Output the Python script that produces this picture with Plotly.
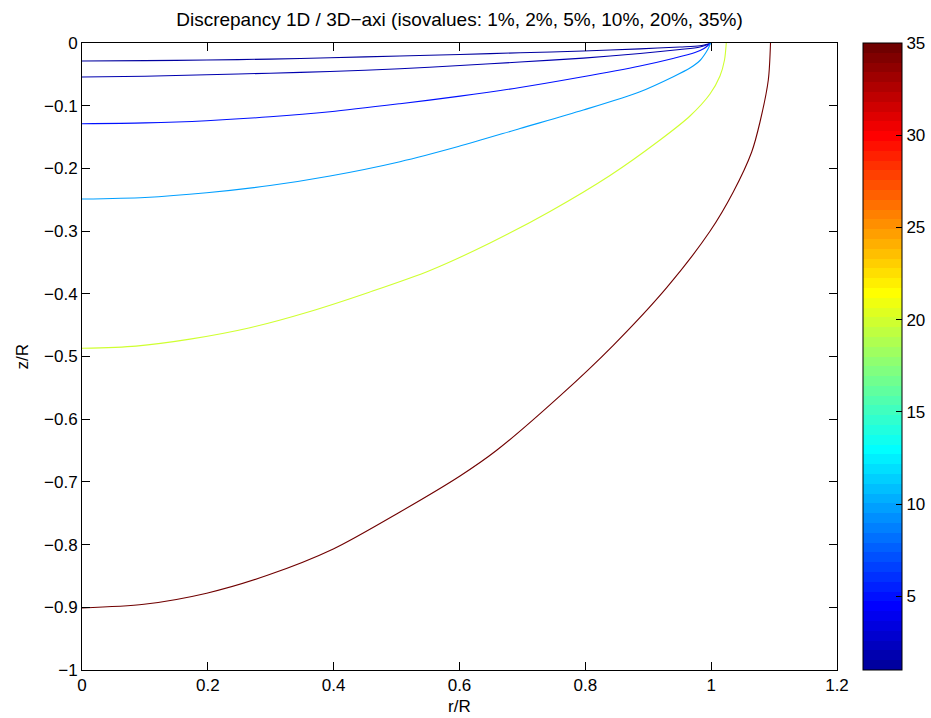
import plotly.graph_objects as go

# ---- data (r/R, z/R) ----
levels = [1, 2, 5, 10, 20, 35]

r_1 = [0.0, 0.1001, 0.1982, 0.2988, 0.3942, 0.5054, 0.6008, 0.6962, 0.7968, 0.8869, 0.9504, 0.9822, 0.9989]
z_1 = [-0.0287, -0.0281, -0.0271, -0.0257, -0.0236, -0.0207, -0.0183, -0.0156, -0.0128, -0.0093, -0.0064, -0.0045, -0.0008]

r_2 = [0.0, 0.1001, 0.1982, 0.2988, 0.3942, 0.5054, 0.6008, 0.6962, 0.7968, 0.8869, 0.9504, 0.9822, 0.9989]
z_2 = [-0.0542, -0.0530, -0.0507, -0.0482, -0.0455, -0.0410, -0.0359, -0.0303, -0.0242, -0.0167, -0.0104, -0.0064, -0.0008]

r_5 = [0.0, 0.1001, 0.1982, 0.2988, 0.3942, 0.5054, 0.6008, 0.6962, 0.7915, 0.8869, 0.9393, 0.9743, 0.9886, 0.9957, 0.9989]
z_5 = [-0.1287, -0.1274, -0.1239, -0.1177, -0.1096, -0.0968, -0.0848, -0.0710, -0.0547, -0.0367, -0.0247, -0.0152, -0.0088, -0.0032, 0.0]

r_10 = [0.0, 0.1001, 0.1982, 0.2988, 0.3942, 0.5054, 0.5981, 0.6962, 0.7968, 0.8869, 0.9398, 0.9663, 0.9822, 0.9917, 0.9965, 0.9989]
z_10 = [-0.2488, -0.2463, -0.2388, -0.2273, -0.2121, -0.1893, -0.1651, -0.1364, -0.1069, -0.0777, -0.0537, -0.0399, -0.0279, -0.0152, -0.0064, 0.0]

r_20 = [0.0, 0.0858, 0.1717, 0.2670, 0.3624, 0.4577, 0.5531, 0.6485, 0.7438, 0.8392, 0.9187, 0.9663, 0.9981, 1.0140, 1.0212, 1.0240]
z_20 = [-0.4869, -0.4834, -0.4723, -0.4541, -0.4282, -0.3971, -0.3628, -0.3190, -0.2687, -0.2113, -0.1547, -0.1164, -0.0813, -0.0526, -0.0271, 0.0]

r_35 = [0.0, 0.0985, 0.1982, 0.2936, 0.3994, 0.5054, 0.6008, 0.6591, 0.7597, 0.8444, 0.9293, 0.9981, 1.0351, 1.0644, 1.0776, 1.0908, 1.0943]
z_35 = [-0.9011, -0.8952, -0.8775, -0.8494, -0.8070, -0.7480, -0.6906, -0.6496, -0.5628, -0.4821, -0.3901, -0.3003, -0.2376, -0.1738, -0.1260, -0.0590, 0.0]

curves_r = [r_1, r_2, r_5, r_10, r_20, r_35]
curves_z = [z_1, z_2, z_5, z_10, z_20, z_35]

x_ticks = [0, 0.2, 0.4, 0.6, 0.8, 1, 1.2]
y_ticks = [0, -0.1, -0.2, -0.3, -0.4, -0.5, -0.6, -0.7, -0.8, -0.9, -1]
cbar_ticks = [5, 10, 15, 20, 25, 30, 35]
cmin, cmax = 1, 35


# ---- MATLAB jet(64) colormap ----
def jet_matlab(m=64):
    nq = int(round(m / 4))
    u = [i / nq for i in range(1, nq + 1)] + [1.0] * (nq - 1) + [i / nq for i in range(nq, 0, -1)]
    g0 = int(-(-nq // 2)) - (1 if m % 4 == 1 else 0)
    g = [g0 + k for k in range(len(u))]
    R = [0.0] * m; G = [0.0] * m; B = [0.0] * m
    for k, gi in enumerate(g):
        if 1 <= gi <= m:
            G[gi - 1] = u[k]
        ri = gi + nq
        if 1 <= ri <= m:
            R[ri - 1] = u[k]
        bi = gi - nq
        if 1 <= bi <= m:
            B[bi - 1] = u[k]
    return list(zip(R, G, B))


cmap = jet_matlab(64)


def rgb(c):
    return "rgb(%d,%d,%d)" % tuple(int(round(v * 255)) for v in c)


def level_color(v):
    idx = int((v - cmin) / (cmax - cmin) * 64)
    idx = max(0, min(63, idx))
    return rgb(cmap[idx])


colorscale = []
for i, c in enumerate(cmap):
    colorscale.append([i / 64, rgb(c)])
    colorscale.append([(i + 1) / 64, rgb(c)])

fig = go.Figure()
for lev, rr, zz in zip(levels, curves_r, curves_z):
    fig.add_trace(go.Scatter(x=rr, y=zz, mode="lines",
                             line=dict(color=level_color(lev), width=1.1, shape="spline", smoothing=0.8),
                             showlegend=False, hoverinfo="skip"))

FONT = "Liberation Sans"
tickfont = dict(family=FONT, size=17, color="black")

# plot-area geometry in page pixels
L, R, T, B = 82, 837, 43, 670
W, H = 931, 718

# colorbar carrier
fig.add_trace(go.Scatter(
    x=[None], y=[None], mode="markers", showlegend=False, hoverinfo="skip",
    marker=dict(color=[cmin], cmin=cmin, cmax=cmax, colorscale=colorscale, showscale=True,
                colorbar=dict(x=(863 - L) / (R - L), xanchor="left", xpad=0, ypad=0, y=0.5, yanchor="middle",
                              len=1, lenmode="fraction", thickness=39, thicknessmode="pixels",
                              outlinewidth=1, outlinecolor="black",
                              tickvals=cbar_ticks, ticks="inside", ticklen=6, tickcolor="black",
                              tickfont=tickfont))))

fig.update_layout(
    width=W, height=H,
    margin=dict(l=L, r=W - R, t=T, b=H - B, autoexpand=False),
    paper_bgcolor="white", plot_bgcolor="white",
    title=dict(text="Discrepancy 1D / 3D\u2212axi (isovalues: 1%, 2%, 5%, 10%, 20%, 35%)",
               x=0.5, xref="paper", xanchor="center", y=1 - 19 / H, yanchor="middle",
               font=dict(family=FONT, size=19, color="black")),
    font=tickfont,
    annotations=[
        dict(text="r/R", xref="paper", yref="paper", x=0.5, y=(B - 706) / (B - T),
             xanchor="center", yanchor="middle", showarrow=False, font=tickfont),
        dict(text="z/R", xref="paper", yref="paper", x=(22 - L) / (R - L), y=0.5, textangle=-90,
             xanchor="center", yanchor="middle", showarrow=False, font=tickfont),
    ],
)
fig.update_xaxes(range=[0, 1.2], tickvals=x_ticks, ticks="inside", ticklen=8, tickcolor="black",
                 showline=True, linecolor="black", linewidth=1, mirror="ticks",
                 showgrid=False, zeroline=False, tickfont=tickfont, automargin=False)
fig.update_yaxes(range=[-1, 0], tickvals=y_ticks, ticks="inside", ticklen=8, tickcolor="black",
                 showline=True, linecolor="black", linewidth=1, mirror="ticks",
                 showgrid=False, zeroline=False, tickfont=tickfont, automargin=False)

fig.write_html("out.html",
               config={"displayModeBar": False},
               post_script="document.body.style.margin='0';document.body.style.overflow='hidden';")
